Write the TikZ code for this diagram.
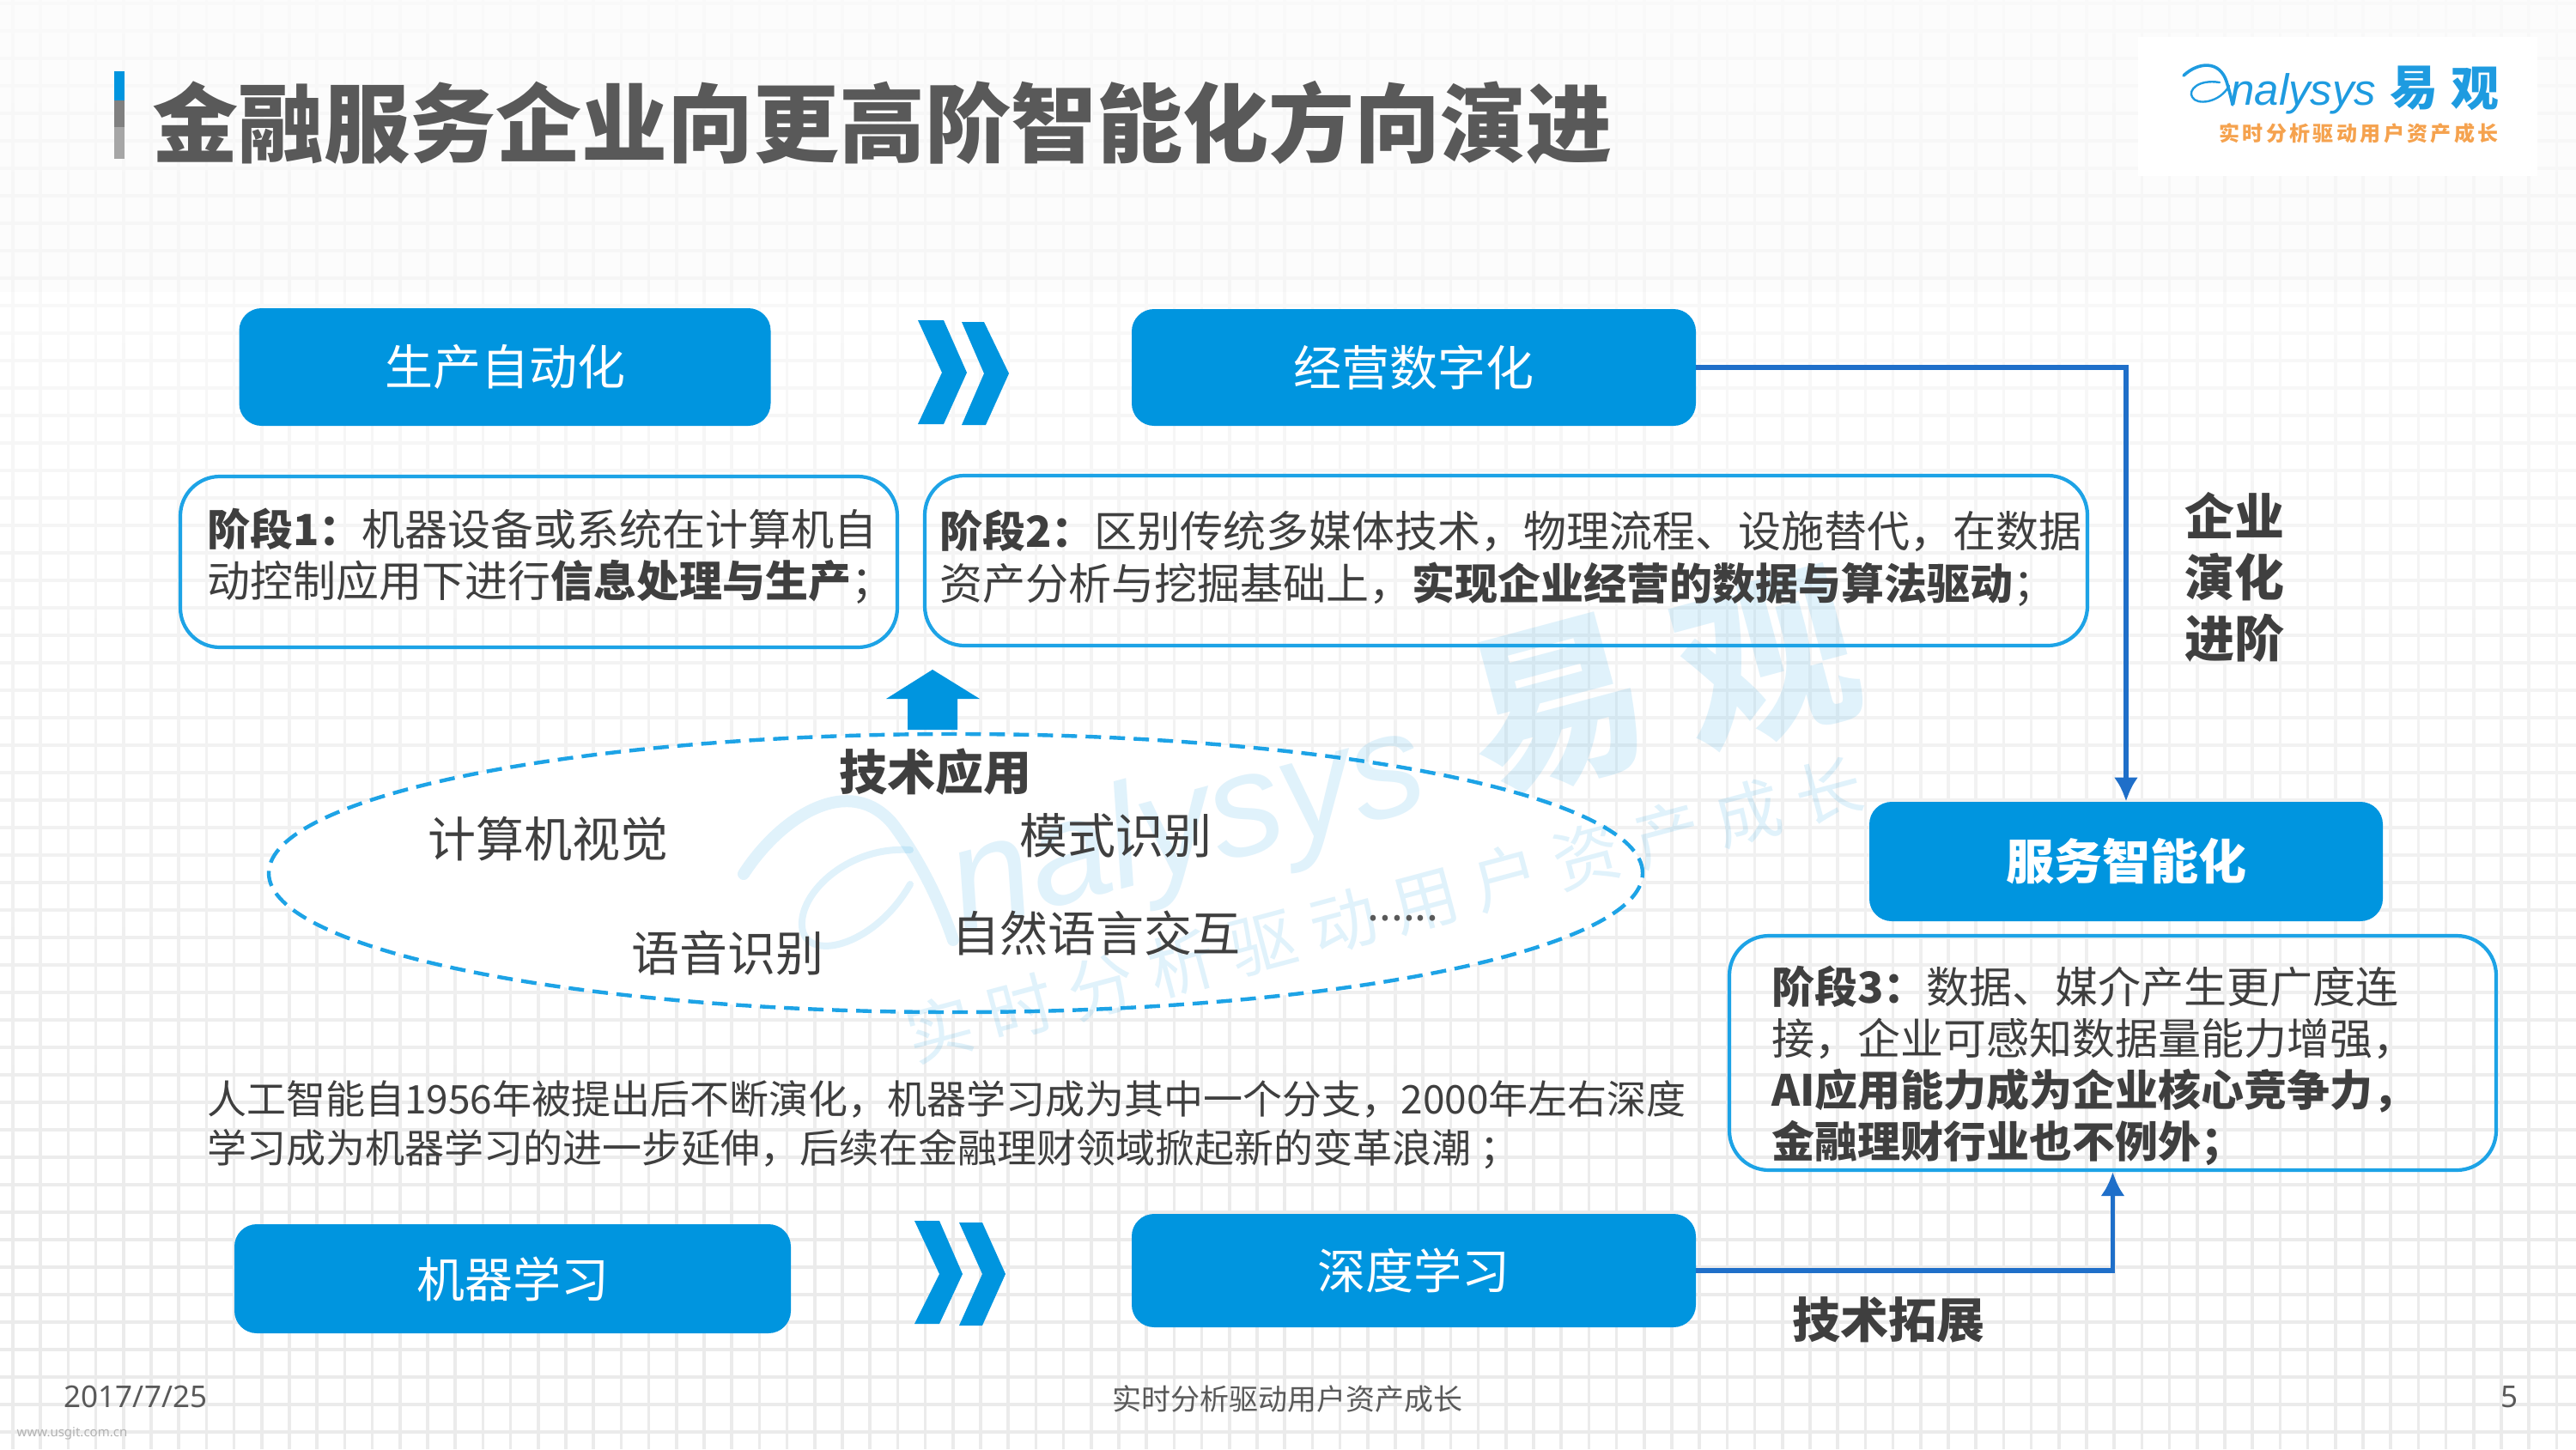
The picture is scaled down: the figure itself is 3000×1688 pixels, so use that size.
\documentclass[tikz,border=0pt]{standalone}
\usepackage{fontspec}
\setmainfont{Noto Sans CJK SC}
\newfontfamily\latinsans{Noto Sans}
\newfontfamily\logofont{Liberation Sans}
\usetikzlibrary{arrows.meta,shapes.geometric}
\definecolor{boxblue}{HTML}{0095DF}
\definecolor{edgeblue}{HTML}{1DA3E6}
\definecolor{linkblue}{HTML}{1F6FC9}
\definecolor{inktext}{HTML}{3F3F3F}
\definecolor{greytext}{HTML}{595959}
\definecolor{gridgrey}{HTML}{EBEBEB}
\definecolor{logoorange}{HTML}{F5A24E}
\definecolor{logoblue}{HTML}{1E9BE0}
\newcommand{\zh}[2]{\fontsize{#1}{#2}\selectfont}
\tikzset{
  gridline/.style={gridgrey,line width=1.8pt},
  solidbox/.style={fill=boxblue,rounded corners=13pt,inner sep=0pt,text=white,font=\zh{28}{30}},
  stagebox/.style={draw=edgeblue,line width=2.1pt,fill=none,rounded corners=23pt,inner sep=0pt},
  stagetext/.style={anchor=west,align=left,inner sep=0pt,text=inktext},
  plain/.style={inner sep=0pt,text=inktext,font=\zh{28}{30}},
  strong/.style={inner sep=0pt,text=inktext,font=\zh{28}{30}\bfseries},
  chevron/.style={fill=boxblue},
  link/.style={draw=linkblue,line width=2.6pt,-{Latex[length=14pt,width=14pt]}},
  wmtext/.style={inner sep=0pt,text=boxblue,text opacity=.12,rotate=15},
  wmline/.style={draw=boxblue,draw opacity=.12,line cap=round},
}
\begin{document}
\begin{tikzpicture}[x=0.5pt,y=-0.5pt]
\useasboundingbox (0,0) rectangle (3000,1688);
% background
\fill[white] (0,0) rectangle (3000,1688);
\foreach \i in {0,...,93}{\draw[gridline] ({15+32.2*\i},0) -- ({15+32.2*\i},1688);}
\foreach \k in {0,...,52}{\draw[gridline] (0,{4+32*\k}) -- (3000,{4+32*\k});}
\foreach \k in {0,...,37}{
  \pgfmathsetmacro{\op}{max(0,0.88*(1-(\k*40+20)/1500))}
  \fill[white,fill opacity=\op] (0,{\k*40}) rectangle (3000,{(\k+1)*40});
}
\fill[black,fill opacity=.012] (0,0) rectangle (3000,340);
% ellipse (white ground, watermark shows over it)
\node[draw=edgeblue,fill=white,line width=2.2pt,dash pattern=on 9pt off 5pt,ellipse,
      minimum width=800pt,minimum height=162pt,inner sep=0pt] (tech) at (1113,1017) {};
% watermark
\draw[wmline,line width=7pt] (866,1018) .. controls (910,950) and (990,900) .. (1040,960) .. controls (1070,1000) and (1095,1050) .. (1110,1095);
\draw[wmline,line width=4pt] (1060,990) .. controls (985,985) and (925,1045) .. (935,1085) .. controls (945,1120) and (1020,1100) .. (1060,1030);
\node[wmtext,anchor=base,font=\logofont\itshape\zh{85}{90}] (wmname) at (1395,1012) {nalysys};
\node[wmtext,font=\zh{104}{106}\bfseries] (wmyi) at (1813,823) {易};
\node[wmtext,font=\zh{104}{106}\bfseries] (wmguan) at (2058,770) {观};
\node[wmtext,font=\zh{39}{42}\addfontfeature{LetterSpace=25}] (wmslogan) at (1612,1060) {实时分析驱动用户资产成长};
% title
\fill[boxblue] (133,83) rectangle (145,117);
\fill[black!50] (133,117) rectangle (145,148);
\fill[black!35] (133,148) rectangle (145,185);
\node[anchor=west,inner sep=0pt,text=greytext,font=\zh{50}{54}\bfseries] (title) at (177,143) {金融服务企业向更高阶智能化方向演进};
% logo
\node[fill=white,minimum width=232.5pt,minimum height=81pt,inner sep=0pt] (logobg) at (2722.5,124) {};
\draw[logoblue,line width=1.8pt,line cap=round] (2543,88) .. controls (2560,72) and (2585,70) .. (2593,95) .. controls (2596,105) and (2598,112) .. (2600,122);
\draw[logoblue,line width=1.2pt,line cap=round] (2585,96) .. controls (2560,92) and (2548,105) .. (2553,113) .. controls (2558,123) and (2585,120) .. (2596,100);
\node[anchor=base west,inner sep=0pt,text=logoblue,font=\logofont\itshape\zh{25.5}{28}] (logoname) at (2597,122) {nalysys};
\node[inner sep=0pt,text=logoblue,font=\zh{28}{30}\bfseries] (logoyi) at (2811,103) {易};
\node[inner sep=0pt,text=logoblue,font=\zh{28}{30}\bfseries] (logoguan) at (2882,103) {观};
\node[inner sep=0pt,text=logoorange,font=\zh{12}{14}\bfseries\addfontfeature{LetterSpace=14}] (logoslogan) at (2747,155) {实时分析驱动用户资产成长};
% solid boxes
\node[solidbox,minimum width=309.5pt,minimum height=68.5pt] (prod) at (588,427.5) {生产自动化};
\node[solidbox,minimum width=328.5pt,minimum height=68pt] (oper) at (1646.5,428) {经营数字化};
\node[solidbox,minimum width=299pt,minimum height=69.5pt,font=\zh{28}{30}\bfseries] (serv) at (2476,1003.5) {服务智能化};
\node[solidbox,minimum width=324pt,minimum height=63.5pt] (ml) at (597,1489.5) {机器学习};
\node[solidbox,minimum width=328.5pt,minimum height=66pt] (dl) at (1646.5,1480) {深度学习};
% chevrons
\fill[chevron] (1069,373) -- (1099,373) -- (1126,434) -- (1099,494) -- (1069,494) -- (1097,434) -- cycle;
\fill[chevron] (1120,375) -- (1146,375) -- (1175,435) -- (1148,495) -- (1120,495) -- (1146,435) -- cycle;
\fill[chevron] (1065,1422) -- (1094,1422) -- (1121,1484) -- (1094,1542) -- (1065,1542) -- (1094,1484) -- cycle;
\fill[chevron] (1117,1424) -- (1144,1424) -- (1171,1484) -- (1144,1544) -- (1117,1544) -- (1144,1484) -- cycle;
% stage boxes
\node[stagebox,minimum width=417.5pt,minimum height=99.5pt] (s1) at (627.5,654.5) {};
\node[stagetext,font=\zh{25}{30}] (s1t) at (241,648) {\textbf{阶段1：}机器设备或系统在计算机自\\动控制应用下进行\textbf{信息处理与生产}；};
\node[stagebox,minimum width=677pt,minimum height=99pt] (s2) at (1754,653) {};
\node[stagetext,font=\zh{25}{30.5}] (s2t) at (1094,650.5) {\textbf{阶段2：}区别传统多媒体技术，物理流程、设施替代，在数据\\资产分析与挖掘基础上，\textbf{实现企业经营的数据与算法驱动}；};
\node[stagebox,minimum width=446.5pt,minimum height=136.5pt] (s3) at (2460.5,1226.5) {};
\node[stagetext,font=\zh{25}{30}] (s3t) at (2063,1241) {\textbf{阶段3：}数据、媒介产生更广度连\\接，企业可感知数据量能力增强，\\\textbf{AI应用能力成为企业核心竞争力，}\\\textbf{金融理财行业也不例外；}};
% up arrow
\fill[boxblue] (1086,780) -- (1141,814) -- (1115,814) -- (1115,850) -- (1057,850) -- (1057,814) -- (1032,814) -- cycle;
% ellipse labels
\node[strong] (techt) at (1089,899) {技术应用};
\node[plain] (cv) at (638,977) {计算机视觉};
\node[plain] (pr) at (1299,973) {模式识别};
\node[plain] (sr) at (847,1110) {语音识别};
\node[plain] (nl) at (1276,1087) {自然语言交互};
\node[inner sep=0pt,anchor=base,text=greytext,font=\zh{25}{28}] (dots) at (1634,1072) {......};
% paragraph
\node[stagetext,font=\zh{23}{28.5}] (para) at (241,1310) {人工智能自1956年被提出后不断演化，机器学习成为其中一个分支，2000年左右深度\\学习成为机器学习的进一步延伸，后续在金融理财领域掀起新的变革浪潮 ；};
% connectors
\draw[link] (oper.east) -| (serv.north);
\draw[link] (dl.east) -| (s3.south);
% side labels
\node[inner sep=0pt,align=center,text=inktext,font=\zh{29}{35.5}\bfseries] (evo) at (2602,672) {企业\\演化\\进阶};
\node[strong] (ext) at (2199,1537) {技术拓展};
% footer
\node[inner sep=0pt,text=greytext,font=\latinsans\zh{17.5}{20}] (date) at (158,1627) {2017/7/25};
\node[inner sep=0pt,text=greytext,font=\zh{17}{20}] (foot) at (1499,1630) {实时分析驱动用户资产成长};
\node[inner sep=0pt,text=greytext,font=\latinsans\zh{17.5}{20}] (page) at (2922,1627) {5};
\node[inner sep=0pt,text=black!30,font=\latinsans\zh{7.5}{9}] (site) at (84,1670) {www.usgit.com.cn};
\end{tikzpicture}
\end{document}
